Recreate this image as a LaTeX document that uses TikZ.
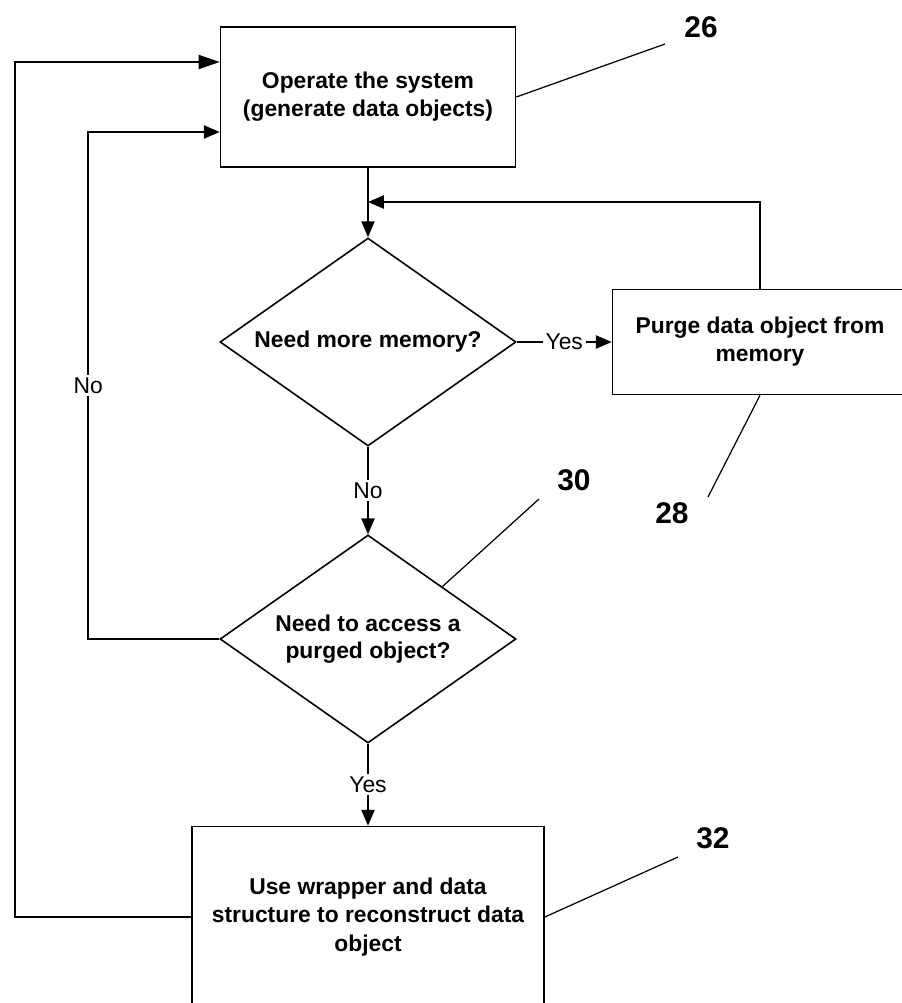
\documentclass[tikz,border=0pt]{standalone}
\usepackage{fontspec}
\setmainfont{Liberation Sans}
\usetikzlibrary{shapes.geometric, positioning, arrows.meta}

\tikzset{
    block/.style={draw, rectangle, line width=0.9pt, align=center,
        font=\bfseries\fontsize{13}{16}\selectfont},
    decision/.style={draw, diamond, aspect=1.42, inner sep=0pt, line width=0.9pt,
        minimum width=5.92cm, minimum height=4.16cm, align=center,
        font=\bfseries\fontsize{13}{15}\selectfont},
    answer/.style={fill=white, inner sep=1.5pt, font=\fontsize{13}{15}\selectfont},
    refnum/.style={font=\bfseries\fontsize{17}{20}\selectfont},
    leader/.style={line width=0.7pt},
    bigarrow/.style={-{Triangle[length=12pt,width=8pt]}}
}

\begin{document}
\begin{tikzpicture}[on grid, node distance=3cm, line width=0.9pt,
        >={Triangle[length=9pt,width=7.5pt]}]
    \useasboundingbox (-7.36,1.94) rectangle (10.68,-18.12);

    \node[block, minimum width=5.9cm, minimum height=2.8cm] (operate) {Operate the system\\(generate data objects)};
    \node[decision] (need) [below=4.9cm of operate] {Need more memory?};
    \node[block, minimum width=5.9cm, minimum height=2.1cm] (purge) [right=7.84cm of need] {Purge data object from\\memory};
    \node[decision] (access) [below=5.94cm of need] {Need to access a\\purged object?};
    \node[block, minimum width=7.04cm, minimum height=3.62cm] (rebuild) [below=5.56cm of access] {Use wrapper and data\\structure to reconstruct data\\object};
    \coordinate[below=2.1cm of operate] (join);

    % reference numerals
    \node[refnum] (n26) [above right=1.4cm and 6.66cm of operate] {26};
    \node[refnum] (n28) at (6.08,-8.32) {28};
    \node[refnum] (n30) at (4.12,-7.66) {30};
    \node[refnum] (n32) at (6.9,-14.82) {32};
    \coordinate (c26) at (5.94,1.06);
    \coordinate (c28) at (6.8,-8.0);
    \coordinate (c30) at (3.42,-8.04);
    \coordinate (c32) at (6.2,-15.2);

    \draw[->] (operate.south) -- (need.north);
    \draw[->] (purge.north) |- (join);
    \draw[->] (need.east) -- node[answer] {Yes} (purge.west);
    \draw[->] (need.south) -- node[answer] {No} (access.north);
    \draw[->] (access.south) -- node[answer] {Yes} (rebuild.north);
    \draw[->] (access.west) -- ++(-2.62,0) |- node[answer, pos=0.25] {No} ([yshift=-0.7cm]operate.west);
    \draw[bigarrow] (rebuild.west) -- ++(-3.52,0) |- ([yshift=0.7cm]operate.west);

    \draw[leader] (operate.east) -- (c26);
    \draw[leader] (purge.south) -- (c28);
    \draw[leader] (access.north east) -- (c30);
    \draw[leader] (rebuild.east) -- (c32);
\end{tikzpicture}
\end{document}
